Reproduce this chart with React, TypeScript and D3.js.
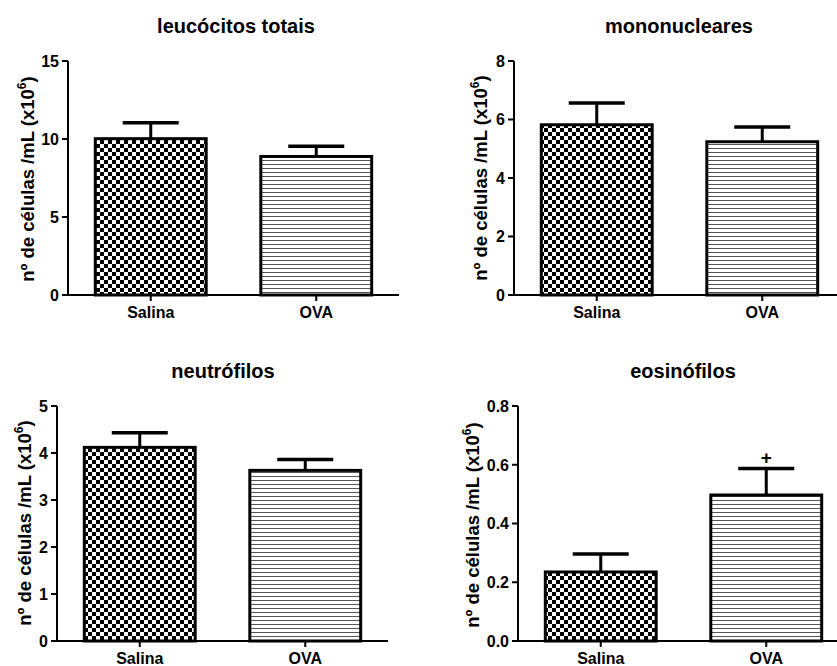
import React from "react";
import * as d3 from "d3";

const width = 837;
const height = 666;

const categories = ["Salina", "OVA"];

const leucoMean = [10.02, 8.88];
const leucoSem = [1.02, 0.65];
const leucoTicks = [0, 5, 10, 15];

const monoMean = [5.82, 5.24];
const monoSem = [0.74, 0.5];
const monoTicks = [0, 2, 4, 6, 8];

const neutroMean = [4.12, 3.63];
const neutroSem = [0.31, 0.23];
const neutroTicks = [0, 1, 2, 3, 4, 5];

const eosMean = [0.235, 0.497];
const eosSem = [0.061, 0.09];
const eosTicks = [0, 0.2, 0.4, 0.6, 0.8];
const eosMarks = ["", "+"];

const yLabel = "nº de células /mL (x10";

const font = "'Liberation Sans', Arial, sans-serif";

interface PanelProps {
  title: string;
  mean: number[];
  sem: number[];
  ticks: number[];
  fmt: (n: number) => string;
  marks?: string[];
  // layout
  x0: number;
  yTop: number;
  yBottom: number;
  titleX: number;
  titleY: number;
  labelX: number;
  labelY: number;
}

const Panel: React.FC<PanelProps> = (p) => {
  const domainMax = p.ticks[p.ticks.length - 1];
  const y = d3.scaleLinear().domain([0, domainMax]).range([p.yBottom, p.yTop]);
  const x = d3
    .scaleBand<string>()
    .domain(categories)
    .range([p.x0, p.x0 + 331])
    .paddingInner(0.33)
    .paddingOuter(0.165);
  const bw = x.bandwidth();
  const capW = 56;

  return (
    <g>
      <text
        x={p.titleX}
        y={p.titleY}
        textAnchor="middle"
        fontSize={20}
        fontWeight="bold"
        fontFamily={font}
      >
        {p.title}
      </text>

      {categories.map((c, i) => {
        const cx = (x(c) as number) + bw / 2;
        const top = y(p.mean[i]);
        const errTop = y(p.mean[i] + p.sem[i]);
        return (
          <g key={c}>
            <line x1={cx} x2={cx} y1={top} y2={errTop} stroke="#000" strokeWidth={3} />
            <line
              x1={cx - capW / 2}
              x2={cx + capW / 2}
              y1={errTop}
              y2={errTop}
              stroke="#000"
              strokeWidth={3.5}
            />
            <rect
              x={x(c)}
              y={top}
              width={bw}
              height={p.yBottom - top}
              fill={i === 0 ? "url(#checker)" : "url(#stripes)"}
              stroke="#000"
              strokeWidth={3}
            />
            {p.marks && p.marks[i] ? (
              <text
                x={cx}
                y={errTop - 5}
                textAnchor="middle"
                fontSize={19}
                fontWeight="bold"
                fontFamily={font}
              >
                {p.marks[i]}
              </text>
            ) : null}
            <line x1={cx} x2={cx} y1={p.yBottom} y2={p.yBottom + 6} stroke="#000" strokeWidth={2} />
            <text
              x={cx}
              y={p.yBottom + 23}
              textAnchor="middle"
              fontSize={16}
              fontWeight="bold"
              fontFamily={font}
            >
              {c}
            </text>
          </g>
        );
      })}

      {/* axes */}
      <line x1={p.x0} x2={p.x0} y1={p.yTop} y2={p.yBottom} stroke="#000" strokeWidth={2} />
      <line x1={p.x0} x2={p.x0 + 331} y1={p.yBottom} y2={p.yBottom} stroke="#000" strokeWidth={2} />
      {p.ticks.map((t) => (
        <g key={t}>
          <line x1={p.x0 - 6} x2={p.x0} y1={y(t)} y2={y(t)} stroke="#000" strokeWidth={2} />
          <text
            x={p.x0 - 9}
            y={y(t)}
            dy="0.36em"
            textAnchor="end"
            fontSize={16}
            fontWeight="bold"
            fontFamily={font}
          >
            {p.fmt(t)}
          </text>
        </g>
      ))}

      <text
        transform={`translate(${p.labelX},${p.labelY}) rotate(-90)`}
        textAnchor="middle"
        fontSize={18.5}
        fontWeight="bold"
        fontFamily={font}
      >
        {yLabel}
        <tspan fontSize={12} dy="-0.7em">6</tspan>
        <tspan dy="0.45em">)</tspan>
      </text>
    </g>
  );
};

const App: React.FC = () => {
  const fInt = d3.format("d");
  const fDec = d3.format(".1f");
  return (
    <svg
      width={width}
      height={height}
      style={{ position: "absolute", left: 0, top: 0, background: "#fff" }}
    >
      <defs>
        <pattern id="checker" width={8} height={8} patternUnits="userSpaceOnUse">
          <rect width={8} height={8} fill="#fff" />
          <rect x={0} y={0} width={4} height={4} fill="#000" />
          <rect x={4} y={4} width={4} height={4} fill="#000" />
        </pattern>
        <pattern id="stripes" width={8} height={4} patternUnits="userSpaceOnUse">
          <rect width={8} height={4} fill="#fff" />
          <rect x={0} y={0} width={8} height={1} fill="#555" />
        </pattern>
      </defs>
      <rect width={width} height={height} fill="#fff" />

      <Panel
        title="leucócitos totais"
        mean={leucoMean}
        sem={leucoSem}
        ticks={leucoTicks}
        fmt={fInt}
        x0={68}
        yTop={61}
        yBottom={295}
        titleX={236}
        titleY={33}
        labelX={34}
        labelY={179}
      />
      <Panel
        title="mononucleares"
        mean={monoMean}
        sem={monoSem}
        ticks={monoTicks}
        fmt={fInt}
        x0={514}
        yTop={61}
        yBottom={295}
        titleX={679}
        titleY={33}
        labelX={487}
        labelY={178}
      />
      <Panel
        title="neutrófilos"
        mean={neutroMean}
        sem={neutroSem}
        ticks={neutroTicks}
        fmt={fInt}
        x0={57}
        yTop={406}
        yBottom={641}
        titleX={223}
        titleY={378}
        labelX={31}
        labelY={523}
      />
      <Panel
        title="eosinófilos"
        mean={eosMean}
        sem={eosSem}
        ticks={eosTicks}
        fmt={fDec}
        marks={eosMarks}
        x0={518}
        yTop={406}
        yBottom={641}
        titleX={683}
        titleY={378}
        labelX={479}
        labelY={525}
      />
    </svg>
  );
};

export default App;
